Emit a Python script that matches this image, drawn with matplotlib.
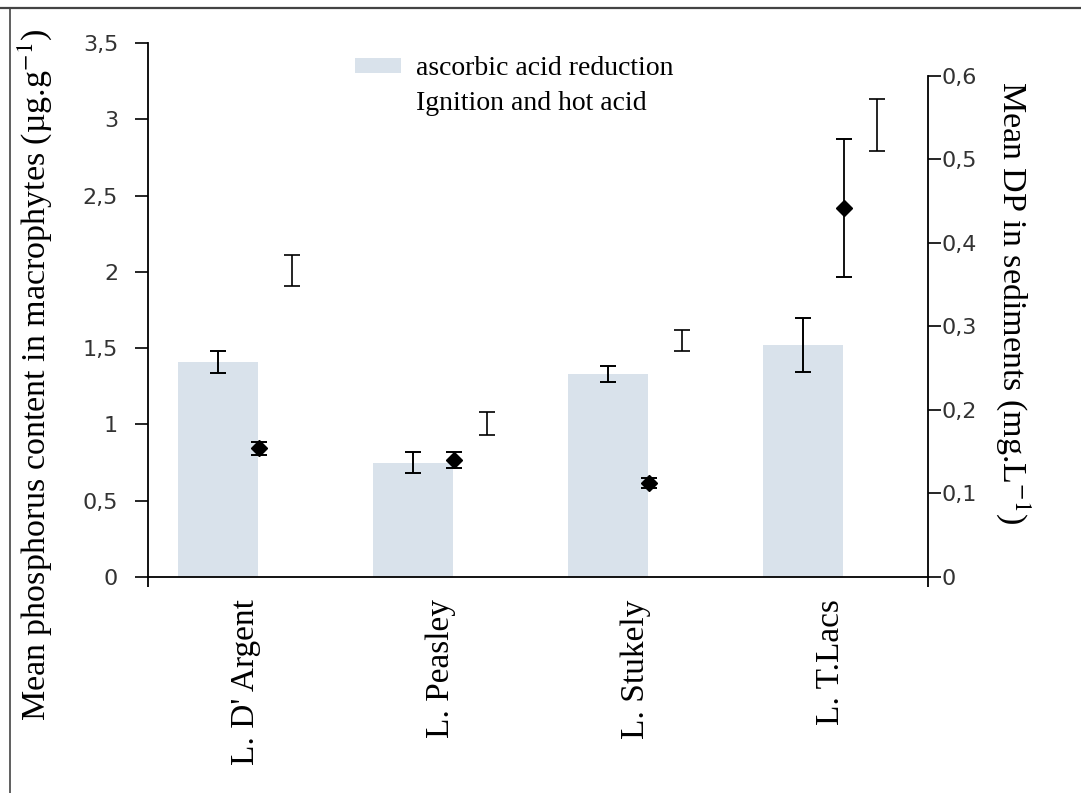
import matplotlib
matplotlib.use("Agg")
import matplotlib.pyplot as plt
import numpy as np
from matplotlib.lines import Line2D
from matplotlib.patches import Patch

lakes = ["L. D' Argent", "L. Peasley", "L. Stukely", "L. T.Lacs"]
ascorbic = [1.41, 0.75, 1.33, 1.52]
ascorbic_err = [0.07, 0.07, 0.05, 0.175]
ignition = [2.01, 1.005, 1.55, 2.96]
ignition_err = [0.10, 0.075, 0.07, 0.17]
dp_sediment = [0.154, 0.140, 0.112, 0.442]
dp_sediment_err = [0.008, 0.010, 0.006, 0.083]

left_ticks = [0, 0.5, 1, 1.5, 2, 2.5, 3, 3.5]
left_labels = ["0", "0,5", "1", "1,5", "2", "2,5", "3", "3,5"]
right_ticks = [0, 0.1, 0.2, 0.3, 0.4, 0.5, 0.6]
right_labels = ["0", "0,1", "0,2", "0,3", "0,4", "0,5", "0,6"]

SERIF = ["Liberation Serif", "DejaVu Serif"]
plt.rcParams["mathtext.fontset"] = "stix"

fig = plt.figure(figsize=(10.81, 7.93), dpi=100)
ax = fig.add_axes([148 / 1081, 1 - 577 / 793, 780 / 1081, 534 / 793])
ax2 = ax.twinx()

x = np.arange(len(lakes))
bar_color = "#d9e2eb"

ax.bar(x - 0.14, ascorbic, width=0.41, color=bar_color, zorder=1)
ax.errorbar(x - 0.14, ascorbic, yerr=ascorbic_err, fmt="none", ecolor="black",
            elinewidth=1.4, capsize=5.5, capthick=1.4, zorder=3)
ax.errorbar(x + 0.24, ignition, yerr=ignition_err, fmt="none", ecolor="black",
            elinewidth=1.2, capsize=5.5, capthick=1.2, zorder=3)
ax2.errorbar(x + 0.07, dp_sediment, yerr=dp_sediment_err, fmt="D", color="black",
             markersize=8, ecolor="black", elinewidth=1.3, capsize=5.5,
             capthick=1.4, zorder=3)

ax.set_xlim(-0.5, 3.5)
ax.set_ylim(0, 3.5)
ax2.set_ylim(0, 0.6395)

for a in (ax, ax2):
    a.spines["top"].set_visible(False)
ax.spines["right"].set_visible(False)
ax2.spines["left"].set_visible(False)
ax2.spines["bottom"].set_visible(False)
ax2.spines["right"].set_bounds(0, 0.6)
for sp in ("left", "bottom"):
    ax.spines[sp].set_linewidth(1.3)
ax2.spines["right"].set_linewidth(1.3)

ax.set_yticks(left_ticks)
ax.set_yticklabels(left_labels, fontsize=16, color="#333333", family="DejaVu Sans")
ax.tick_params(axis="y", direction="out", length=9.5, width=1.2, pad=12)
ax2.set_yticks(right_ticks)
ax2.set_yticklabels(right_labels, fontsize=16, color="#333333", family="DejaVu Sans")
ax2.tick_params(axis="y", direction="out", length=9, width=1.2, pad=1)

ax.set_xticks(x)
ax.set_xticklabels(lakes, rotation=90, fontsize=24, family=SERIF)
ax.tick_params(axis="x", length=0, pad=16)
ax.set_xticks([-0.5, 3.5], minor=True)
ax.tick_params(axis="x", which="minor", direction="out", length=7, width=1.3)

ax.set_ylabel("Mean phosphorus content in macrophytes (µg.g$^{-1}$)",
              fontsize=24.5, family=SERIF)
ax.yaxis.set_label_coords(-93 / 780, 0.378)
ax2.set_ylabel("Mean DP in sediments (mg.L$^{-1}$)", fontsize=24.5,
               family=SERIF, rotation=270, labelpad=30)
ax2.yaxis.set_label_coords(1 + 104 / 780, 0.513)

handles = [Patch(facecolor=bar_color, edgecolor="none"),
           Patch(facecolor="white", edgecolor="none")]
fig.legend(handles, ["ascorbic acid reduction", "Ignition and hot acid"],
           loc="upper left", bbox_to_anchor=(355 / 1081, 1 - 56 / 793),
           frameon=False, prop={"family": SERIF, "size": 20},
           handlelength=1.65, handleheight=0.45, handletextpad=0.55,
           labelspacing=0.35, borderpad=0, borderaxespad=0)

# scanned page frame
fig.add_artist(Line2D([0, 1], [1 - 8 / 793, 1 - 8 / 793], color="#444444",
                      linewidth=1.6, transform=fig.transFigure))
fig.add_artist(Line2D([10 / 1081, 10 / 1081], [0, 1 - 8 / 793], color="#444444",
                      linewidth=1.2, transform=fig.transFigure))

fig.savefig("out.png", dpi=100)
